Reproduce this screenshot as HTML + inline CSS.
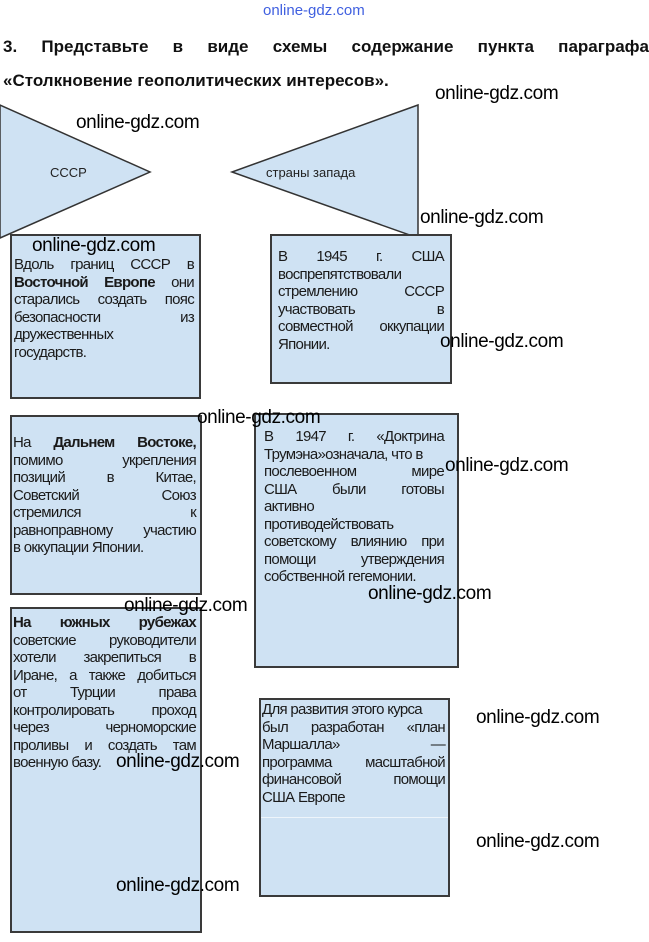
<!DOCTYPE html>
<html><head><meta charset="utf-8"><style>
body{margin:0;width:649px;height:942px;background:#fff;position:relative;overflow:hidden;font-family:"Liberation Sans",sans-serif;}
.a{position:absolute}
.box{position:absolute;background:#cfe2f3;border:2px solid #3a3a3a;box-sizing:border-box}
.t{position:absolute;font-size:15px;line-height:17.5px;color:#1a1a1a;letter-spacing:-0.7px}
.j{white-space:nowrap;display:flex;justify-content:space-between}
.l{white-space:nowrap}
.wm{position:absolute;font-family:"Liberation Sans",sans-serif;font-size:19px;color:#000;white-space:nowrap;letter-spacing:-0.4px}
h1{position:absolute;margin:0;font-size:17px;font-weight:bold;white-space:nowrap;color:#111}
</style></head><body>
<div class="a" style="left:263px;top:2px;font-size:15px;color:#4060e0;">online-gdz.com</div>
<h1 style="left:3px;top:37px;width:646px;display:flex;justify-content:space-between"><span>3.</span><span>Представьте</span><span>в</span><span>виде</span><span>схемы</span><span>содержание</span><span>пункта</span><span>параграфа</span></h1>
<h1 style="left:3px;top:71px">«Столкновение геополитических интересов».</h1>

<svg class="a" style="left:0;top:0" width="649" height="942">
<polygon points="0,105 150,172 0,238" fill="#cfe2f3" stroke="#333" stroke-width="1.5"/>
<polygon points="418,105 232,172 418,238" fill="#cfe2f3" stroke="#333" stroke-width="1.5"/>
<text x="50" y="177" font-family="Liberation Sans" font-size="13" fill="#222">СССР</text>
<text x="266" y="177" font-family="Liberation Sans" font-size="13" fill="#222">страны запада</text>
</svg>

<div class="box" style="left:10px;top:234px;width:191px;height:165px"></div>
<div class="t" style="left:14px;top:256px;width:180px">
<div class="j"><span>Вдоль</span><span>границ</span><span>СССР</span><span>в</span></div>
<div class="j"><b>Восточной</b><b>Европе</b><span>они</span></div>
<div class="j"><span>старались</span><span>создать</span><span>пояс</span></div>
<div class="j"><span>безопасности</span><span>из</span></div>
<div class="l">дружественных</div>
<div class="l">государств.</div>
</div>

<div class="box" style="left:270px;top:234px;width:182px;height:150px"></div>
<div class="t" style="left:278px;top:248px;width:166px">
<div class="j"><span>В</span><span>1945</span><span>г.</span><span>США</span></div>
<div class="l">воспрепятствовали</div>
<div class="j"><span>стремлению</span><span>СССР</span></div>
<div class="j"><span>участвовать</span><span>в</span></div>
<div class="j"><span>совместной</span><span>оккупации</span></div>
<div class="l">Японии.</div>
</div>

<div class="box" style="left:10px;top:415px;width:192px;height:180px"></div>
<div class="t" style="left:13px;top:434px;width:183px">
<div class="j"><span>На</span><b>Дальнем</b><b>Востоке,</b></div>
<div class="j"><span>помимо</span><span>укрепления</span></div>
<div class="j"><span>позиций</span><span>в</span><span>Китае,</span></div>
<div class="j"><span>Советский</span><span>Союз</span></div>
<div class="j"><span>стремился</span><span>к</span></div>
<div class="j"><span>равноправному</span><span>участию</span></div>
<div class="l">в оккупации Японии.</div>
</div>

<div class="box" style="left:254px;top:413px;width:205px;height:255px"></div>
<div class="t" style="left:264px;top:428px;width:180px">
<div class="j"><span>В</span><span>1947</span><span>г.</span><span>«Доктрина</span></div>
<div class="l">Трумэна»означала, что в</div>
<div class="j"><span>послевоенном</span><span>мире</span></div>
<div class="j"><span>США</span><span>были</span><span>готовы</span></div>
<div class="l">активно</div>
<div class="l">противодействовать</div>
<div class="j"><span>советскому</span><span>влиянию</span><span>при</span></div>
<div class="j"><span>помощи</span><span>утверждения</span></div>
<div class="l">собственной гегемонии.</div>
</div>

<div class="box" style="left:10px;top:607px;width:192px;height:326px"></div>
<div class="t" style="left:13px;top:614px;width:183px">
<div class="j"><b>На</b><b>южных</b><b>рубежах</b></div>
<div class="j"><span>советские</span><span>руководители</span></div>
<div class="j"><span>хотели</span><span>закрепиться</span><span>в</span></div>
<div class="j"><span>Иране,</span><span>а</span><span>также</span><span>добиться</span></div>
<div class="j"><span>от</span><span>Турции</span><span>права</span></div>
<div class="j"><span>контролировать</span><span>проход</span></div>
<div class="j"><span>через</span><span>черноморские</span></div>
<div class="j"><span>проливы</span><span>и</span><span>создать</span><span>там</span></div>
<div class="l">военную базу.</div>
</div>

<div class="box" style="left:259px;top:698px;width:191px;height:199px"></div>
<div class="t" style="left:262px;top:701px;width:183px">
<div class="l">Для развития этого курса</div>
<div class="j"><span>был</span><span>разработан</span><span>«план</span></div>
<div class="j"><span>Маршалла»</span><span>—</span></div>
<div class="j"><span>программа</span><span>масштабной</span></div>
<div class="j"><span>финансовой</span><span>помощи</span></div>
<div class="l">США Европе</div>
</div>
<div class="a" style="left:261px;top:817px;width:187px;height:1px;background:#eef5fb"></div>

<div class="wm" style="left:435px;top:83px">online-gdz.com</div>
<div class="wm" style="left:76px;top:112px">online-gdz.com</div>
<div class="wm" style="left:420px;top:207px">online-gdz.com</div>
<div class="wm" style="left:32px;top:235px">online-gdz.com</div>
<div class="wm" style="left:440px;top:331px">online-gdz.com</div>
<div class="wm" style="left:197px;top:407px">online-gdz.com</div>
<div class="wm" style="left:445px;top:455px">online-gdz.com</div>
<div class="wm" style="left:368px;top:583px">online-gdz.com</div>
<div class="wm" style="left:124px;top:595px">online-gdz.com</div>
<div class="wm" style="left:476px;top:707px">online-gdz.com</div>
<div class="wm" style="left:116px;top:751px">online-gdz.com</div>
<div class="wm" style="left:476px;top:831px">online-gdz.com</div>
<div class="wm" style="left:116px;top:875px">online-gdz.com</div>
</body></html>
